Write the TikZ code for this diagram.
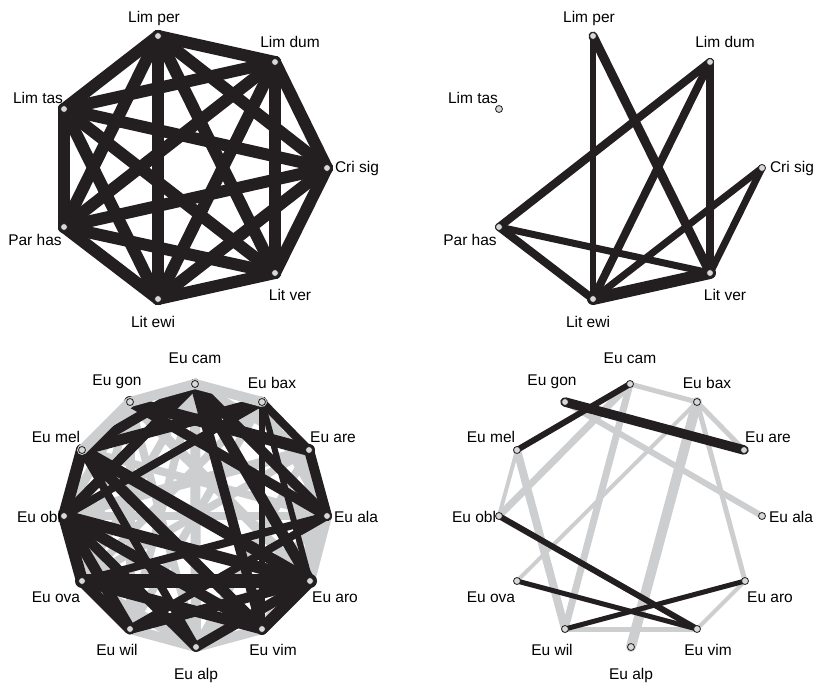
\documentclass[tikz,border=0pt]{standalone}
\usepackage{fontspec}
\setmainfont{Liberation Sans}
\usetikzlibrary{positioning,calc,backgrounds}
\definecolor{ink}{RGB}{35,31,32}
\definecolor{pale}{RGB}{205,206,208}
\definecolor{dotfill}{RGB}{215,216,218}

\begin{document}
\begin{tikzpicture}[x=1pt,y=-1pt,
  vtx/.style={circle,draw=ink,fill=dotfill,line width=0.8pt,inner sep=0pt,minimum size=7pt},
  lbl/.style={font=\fontsize{15.5}{18}\selectfont,inner sep=0pt},
  dark/.style={draw=ink,line cap=round},
  light/.style={draw=pale,line cap=round}]
  \useasboundingbox (0,0) rectangle (813,684);

  % top row: seven species, same layout twice
  \foreach \s/\p in {0/a,435/b}{
    \foreach \n/\x/\y/\dx/\dy/\lab in {per/158/36/-4/-18/Lim per, dum/275/62/15/-20/Lim dum,
        cri/327/168/30/0/Cri sig, ver/275/273/15/22/Lit ver, ewi/158/299/-5/23/Lit ewi,
        has/64/227/-29/13/Par has, tas/64/109/-26/-11/Lim tas}{
      \node[vtx] (\n\p) at (\x+\s,\y) {};
      \node[lbl] at ($(\n\p)+(\dx,\dy)$) {\lab};
    }
  }
  % bottom row: twelve species on a circle
  \foreach \s/\p in {0/c,435/d}{
    \foreach \n/\x/\y/\dx/\dy/\lab in {cam/195/384/0/-26/Eu cam, bax/262/402/10/-19/Eu bax,
        are/309/450/24/-13/Eu are, ala/327/516/29/1/Eu ala, aro/310/581/25/16/Eu aro,
        vim/262/629/11/21/Eu vim, alp/196/647/0/28/Eu alp, wil/130/629/-13/21/Eu wil,
        ova/82/581/-26/16/Eu ova, obl/64/516/-25/1/Eu obl, mel/82/450/-26/-13/Eu mel,
        gon/130/402/-13/-20/Eu gon}{
      \node[vtx] (\n\p) at (\x+\s,\y) {};
      \node[lbl] at ($(\n\p)+(\dx,\dy)$) {\lab};
    }
  }

  \begin{scope}[on background layer]
    % top left: complete graph
    \foreach \u/\v in {per/dum,per/cri,per/ver,per/ewi,per/has,per/tas,
        dum/cri,dum/ver,dum/ewi,dum/has,dum/tas,cri/ver,cri/ewi,cri/has,cri/tas,
        ver/ewi,ver/has,ver/tas,ewi/has,ewi/tas,has/tas}
      \draw[dark,line width=12pt] (\u a.center) -- (\v a.center);
    % top right
    \foreach \u/\v/\w in {per/ewi/5.5,per/ver/9,dum/has/8,dum/ewi/8,dum/ver/8,
        cri/ewi/7,cri/ver/7,has/ver/7,has/ewi/8,ewi/ver/12}
      \draw[dark,line width=\w pt] (\u b.center) -- (\v b.center);

    % bottom left: grey links first, black on top, the rim greys over it
    \foreach \u/\v/\w in {bax/are/8,ala/aro/10,vim/alp/10,alp/wil/10,gon/wil/9,gon/aro/10,
        cam/alp/10,obl/ala/8,are/aro/10,gon/obl/9,gon/ova/8,cam/are/8,
        cam/ova/8,cam/wil/8,bax/ova/8,bax/wil/8,are/obl/10,are/ova/8,ala/mel/8,ala/ova/8,
        alp/ova/10,alp/are/8,alp/ala/8,ala/vim/8,aro/alp/10,gon/alp/8,bax/ala/8}
      \draw[light,line width=\w pt] (\u c.center) -- (\v c.center);
    \foreach \u/\v/\w in {mel/obl/12,obl/ova/12,ova/wil/11,aro/vim/12,are/ala/10,
        ova/aro/14,obl/aro/12,mel/aro/12,wil/aro/10,alp/aro/10,cam/aro/11,bax/aro/6,
        obl/vim/11,mel/vim/11,ova/vim/11,cam/vim/10,bax/vim/6,
        gon/are/12,gon/ala/10,mel/bax/11,cam/obl/10,cam/ala/10,bax/are/8,wil/ala/8,
        alp/obl/10,alp/mel/8,obl/wil/11,cam/mel/10,ova/ala/8,bax/obl/8}
      \draw[dark,line width=\w pt] (\u c.center) -- (\v c.center);
    \foreach \u/\v/\w in {gon/cam/10,cam/bax/10,mel/gon/10}
      \draw[light,line width=\w pt] (\u c.center) -- (\v c.center);

    % bottom right
    \foreach \u/\v/\w in {cam/bax/5,cam/obl/7,cam/wil/7,bax/are/5,bax/ova/4,bax/alp/10,
        bax/aro/5,gon/ala/6,mel/obl/4,mel/wil/8,wil/vim/5,vim/aro/4}
      \draw[light,line width=\w pt] (\u d.center) -- (\v d.center);
    \foreach \u/\v/\w in {gon/are/9.5,mel/cam/6,obl/vim/6,ova/vim/5,wil/aro/5}
      \draw[dark,line width=\w pt] (\u d.center) -- (\v d.center);
  \end{scope}
\end{tikzpicture}
\end{document}
